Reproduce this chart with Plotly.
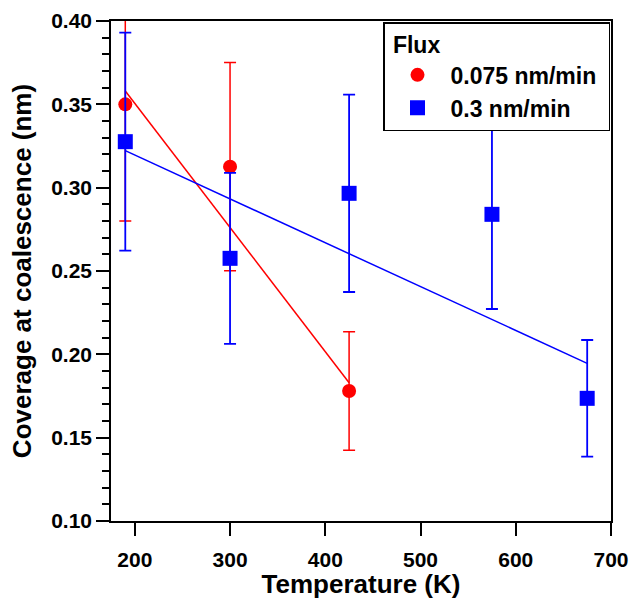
import plotly.graph_objects as go

# Coverage at coalescence vs. substrate temperature, for two deposition fluxes
temp_slow = [190, 300, 425]
cov_slow = [0.350, 0.3126, 0.178]
err_slow_plus = [0.052, 0.0625, 0.0355]
err_slow_minus = [0.070, 0.0625, 0.0355]

temp_fast = [190, 300, 425, 575, 675]
cov_fast = [0.3276, 0.2576, 0.2966, 0.284, 0.1736]
err_fast = [0.0654, 0.0513, 0.0592, 0.0568, 0.035]

# Linear fit end points for each flux
fit_slow_x = [190, 425]
fit_slow_y = [0.358, 0.183]
fit_fast_x = [190, 675]
fit_fast_y = [0.3222, 0.1946]

x_ticks = [200, 300, 400, 500, 600, 700]
y_ticks = [0.10, 0.15, 0.20, 0.25, 0.30, 0.35, 0.40]

RED = "#ff0000"
BLUE = "#0000ff"
FONT = "Liberation Sans, Arial, sans-serif"

fig = go.Figure()

fig.add_trace(go.Scatter(x=fit_slow_x, y=fit_slow_y, mode="lines",
                         line=dict(color=RED, width=1.5), showlegend=False,
                         hoverinfo="skip"))
fig.add_trace(go.Scatter(x=fit_fast_x, y=fit_fast_y, mode="lines",
                         line=dict(color=BLUE, width=1.5), showlegend=False,
                         hoverinfo="skip"))

fig.add_trace(go.Scatter(
    x=temp_slow, y=cov_slow, mode="markers", name="0.075 nm/min\u00a0",
    marker=dict(symbol="circle", size=14, color=RED),
    error_y=dict(type="data", array=err_slow_plus, arrayminus=err_slow_minus,
                 symmetric=False, color=RED, thickness=1.5, width=6),
    cliponaxis=False,
))
fig.add_trace(go.Scatter(
    x=temp_fast, y=cov_fast, mode="markers", name="0.3 nm/min",
    marker=dict(symbol="square", size=15, color=BLUE),
    error_y=dict(type="data", array=err_fast, color=BLUE, thickness=1.8, width=6),
    cliponaxis=False,
))

axis_common = dict(
    showline=True, linecolor="black", linewidth=1.5, mirror=True,
    showgrid=False, zeroline=False, ticks="outside", tickcolor="black",
    tickwidth=1.5, ticklen=13, automargin=False,
    tickfont=dict(family=FONT, size=21, color="black", weight="bold"),
)

fig.update_xaxes(
    range=[175, 700], tickvals=x_ticks, ticklabelstandoff=6,
    title=dict(text="Temperature (K)", standoff=12,
               font=dict(family=FONT, size=26, color="black", weight="bold")),
    **axis_common,
)
fig.update_yaxes(
    range=[0.10, 0.40], tickvals=y_ticks, tickformat=".2f",
    minor=dict(ticks="outside", ticklen=7, tickwidth=1.5, tickcolor="black",
               dtick=0.01, showgrid=False),
    title=dict(text="Coverage at coalescence (nm)", standoff=12,
               font=dict(family=FONT, size=26, color="black", weight="bold")),
    **axis_common,
)

fig.update_layout(
    width=630, height=599,
    margin=dict(l=111, r=19, t=21, b=78),
    paper_bgcolor="white", plot_bgcolor="white",
    font=dict(family=FONT, color="black"),
    legend=dict(
        title=dict(text="\u00a0Flux", font=dict(family=FONT, size=23, weight="bold")),
        font=dict(family=FONT, size=23, color="black", weight="bold"),
        x=0.544, y=0.998, xanchor="left", yanchor="top",
        bgcolor="white", bordercolor="black", borderwidth=1.5,
        itemwidth=56, tracegroupgap=0,
    ),
)

fig.write_html("out.html")
